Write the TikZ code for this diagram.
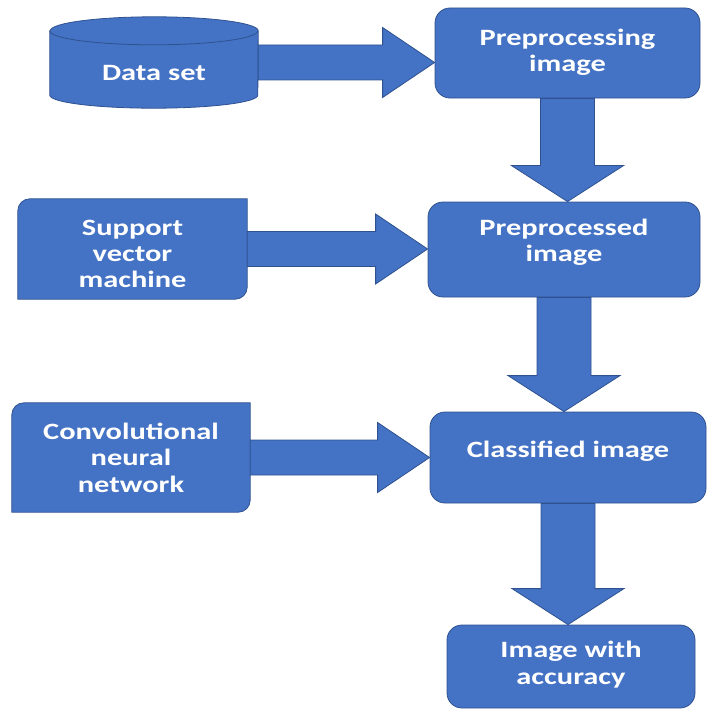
\documentclass[tikz,border=0pt]{standalone}
\usepackage{fontspec}
\setmainfont{Carlito}[FakeStretch=1.3]
\usetikzlibrary{calc,backgrounds}
\definecolor{boxblue}{HTML}{4472C4}
\definecolor{edgeblue}{HTML}{2F528F}
\tikzset{
  shapefill/.style={fill=boxblue, draw=edgeblue, line width=0.8bp},
  txt/.style={text=white, font=\fontsize{23.5}{26.5}\selectfont\bfseries, align=center, inner sep=0pt},
  mainbox/.style={shapefill, rounded corners=15bp, inner sep=0pt},
  plainbox/.style={inner sep=0pt},
}
\newcommand\diagshape[1]{%
  \filldraw[shapefill] ($(#1.north west)+(0,12)$) arc[start angle=180,end angle=270,radius=12]
    -- (#1.north east) -- ($(#1.south east)+(0,-12)$) arc[start angle=0,end angle=90,radius=12]
    -- (#1.south west) -- cycle;}
\newcommand\harrow[2]{%
  \filldraw[shapefill] let \p1=(#1), \p2=(#2) in
    (\x1,\y1+17.5bp) -- (\x2-52bp,\y1+17.5bp) -- (\x2-52bp,\y1+35bp) -- (\x2,\y1)
    -- (\x2-52bp,\y1-35bp) -- (\x2-52bp,\y1-17.5bp) -- (\x1,\y1-17.5bp) -- cycle;}
\newcommand\varrow[2]{%
  \filldraw[shapefill] let \p1=(#1), \p2=(#2) in
    (\x1-27bp,\y1) -- (\x1-27bp,\y2+36bp) -- (\x1-56bp,\y2+36bp) -- (\x1,\y2)
    -- (\x1+56bp,\y2+36bp) -- (\x1+27bp,\y2+36bp) -- (\x1+27bp,\y1) -- cycle;}
\begin{document}
\begin{tikzpicture}[x=1bp,y=-1bp]
\useasboundingbox (0,0) rectangle (707,710);
% shapes
\node[plainbox, minimum width=208bp, minimum height=91bp] (ds) at (154,62.5) {};
\node[mainbox, minimum width=265bp, minimum height=90bp] (b1) at (567.5,53) {};
\node[plainbox, minimum width=229bp, minimum height=100bp] (svm) at (132.5,249) {};
\node[mainbox, minimum width=272bp, minimum height=95bp] (b2) at (564,249.5) {};
\node[plainbox, minimum width=238bp, minimum height=109bp] (cnn) at (131,457.5) {};
\node[mainbox, minimum width=276bp, minimum height=91bp] (b3) at (568,457.5) {};
\node[mainbox, minimum width=248bp, minimum height=83bp] (b4) at (571,666.5) {};
\begin{pgfonlayer}{background}
  \filldraw[shapefill] ($(ds.north west)+(0,14)$) -- ($(ds.south west)+(0,-13)$)
     arc[start angle=180,end angle=0,x radius=104,y radius=13]
     -- ($(ds.north east)+(0,14)$) arc[start angle=0,end angle=-180,x radius=104,y radius=14] -- cycle;
  \draw[edgeblue, line width=0.8bp] ($(ds.north west)+(0,14)$) arc[start angle=180,end angle=0,x radius=104,y radius=14];
  \diagshape{svm}
  \diagshape{cnn}
\end{pgfonlayer}
% texts
\node[txt] (dst) at ($(ds.center)+(0,10)$) {Data set};
\node[txt] (b1t) at ($(b1.center)+(0,-1)$) {Preprocessing\\image};
\node[txt] (svmt) at ($(svm.center)+(0,5)$) {Support\\vector\\machine};
\node[txt] (b2t) at ($(b2.center)+(0,-7)$) {Preprocessed\\image};
\node[txt] (cnnt) at ($(cnn.center)+(0,0)$) {Convolutional\\neural\\network};
\node[txt] (b3t) at ($(b3.center)+(0,-6)$) {Classified image};
\node[txt] (b4t) at ($(b4.center)+(0,-2)$) {Image with\\accuracy};
% block arrows
\harrow{ds.east}{ds.east -| b1.west}
\harrow{svm.east}{svm.east -| b2.west}
\harrow{cnn.east}{cnn.east -| b3.west}
\varrow{b1.south}{b1.south |- b2.north}
\varrow{b2.south}{b2.south |- b3.north}
\varrow{b3.south}{b3.south |- b4.north}
\end{tikzpicture}
\end{document}
